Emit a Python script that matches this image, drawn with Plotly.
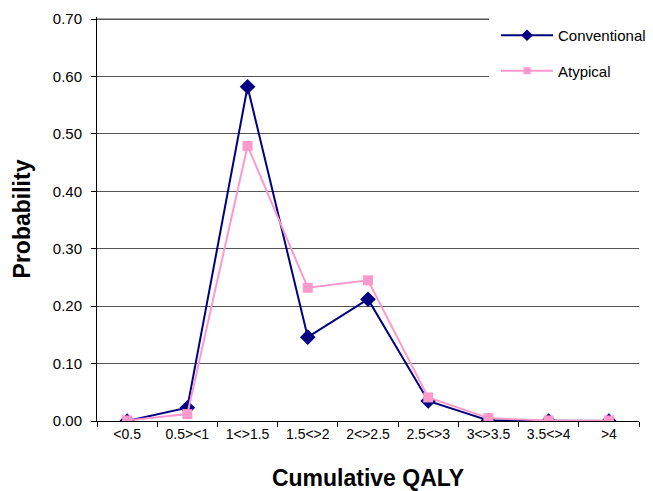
import plotly.graph_objects as go

categories = ["<0.5", "0.5><1", "1<>1.5", "1.5<>2", "2<>2.5", "2.5<>3", "3<>3.5", "3.5<>4", ">4"]
conventional = [0.000, 0.023, 0.582, 0.146, 0.212, 0.035, 0.001, 0.000, 0.000]
atypical = [0.001, 0.012, 0.479, 0.232, 0.245, 0.041, 0.005, 0.001, 0.001]
y_ticks = [0.0, 0.1, 0.2, 0.3, 0.4, 0.5, 0.6, 0.7]

NAVY = "#000080"
PINK = "#FF99CC"
GRID = "#555555"
FONT = "Liberation Sans, Arial, sans-serif"

# plot box in pixels
L, R, T, B = 97, 639, 17, 421
W, H = 653, 491
Y_TOP = 0.7 * (B - T) / (B - T - 2)  # leaves the 0.70 line just inside the box


def px_x(p):
    return (p - L) / (R - L)


def px_y(p):
    return (B - p) / (B - T)


series = [
    ("Conventional", conventional, NAVY, "diamond", 12, 9),
    ("Atypical", atypical, PINK, "square", 10, 7),
]

fig = go.Figure()

# top gridline at 0.70
fig.add_shape(type="line", xref="paper", yref="y", x0=0, x1=1, y0=0.7, y1=0.7,
              line=dict(color=GRID, width=1), layer="below")

for name, values, color, symbol, size, legend_size in series:
    fig.add_trace(go.Scatter(
        x=categories, y=values, name=name, mode="lines+markers",
        legendgroup=name, showlegend=False,
        line=dict(color=color, width=2),
        marker=dict(symbol=symbol, size=size, color=color),
    ))
    # legend entry with the smaller key marker
    fig.add_trace(go.Scatter(
        x=[None], y=[None], name=name, mode="lines+markers",
        legendgroup=name, showlegend=True, hoverinfo="skip",
        line=dict(color=color, width=2),
        marker=dict(symbol=symbol, size=legend_size, color=color),
    ))

# white panel behind the legend hides the top gridlines there
fig.add_shape(type="rect", xref="paper", yref="paper",
              x0=px_x(489), x1=1.05, y0=px_y(118), y1=1.1,
              fillcolor="white", line=dict(width=0), layer="above")

fig.update_layout(
    width=W, height=H,
    margin=dict(l=L, r=W - R, t=T, b=H - B, autoexpand=False),
    paper_bgcolor="white", plot_bgcolor="white",
    font=dict(family=FONT, size=14, color="#000000"),
    showlegend=True,
    legend=dict(
        x=px_x(496), y=px_y(19), xanchor="left", yanchor="top",
        bgcolor="rgba(0,0,0,0)", borderwidth=0,
        font=dict(family=FONT, size=15, color="#000000"),
        itemwidth=52, tracegroupgap=13,
    ),
    xaxis=dict(
        type="category", categoryorder="array", categoryarray=categories,
        showgrid=False, showline=True, linecolor="#000000", linewidth=1,
        ticks="outside", tickson="boundaries", ticklen=5, tickcolor="#000000",
        tickfont=dict(family=FONT, size=14, color="#000000"),
        title=dict(text="<b>Cumulative QALY</b>", font=dict(family=FONT, size=23, color="#000000"), standoff=29),
        range=[-0.5, 8.5], automargin=False,
    ),
    yaxis=dict(
        range=[0, Y_TOP], tickvals=y_ticks, tickformat=".2f",
        showgrid=True, gridcolor=GRID, gridwidth=1,
        showline=True, linecolor="#000000", linewidth=1,
        ticks="outside", ticklen=5, tickcolor="#000000",
        ticklabelstandoff=6,
        tickfont=dict(family=FONT, size=15, color="#000000"),
        zeroline=False, automargin=False,
        title=dict(text="<b>Probability</b>", font=dict(family=FONT, size=23, color="#000000"), standoff=15),
    ),
)

fig.write_html("out.html")
